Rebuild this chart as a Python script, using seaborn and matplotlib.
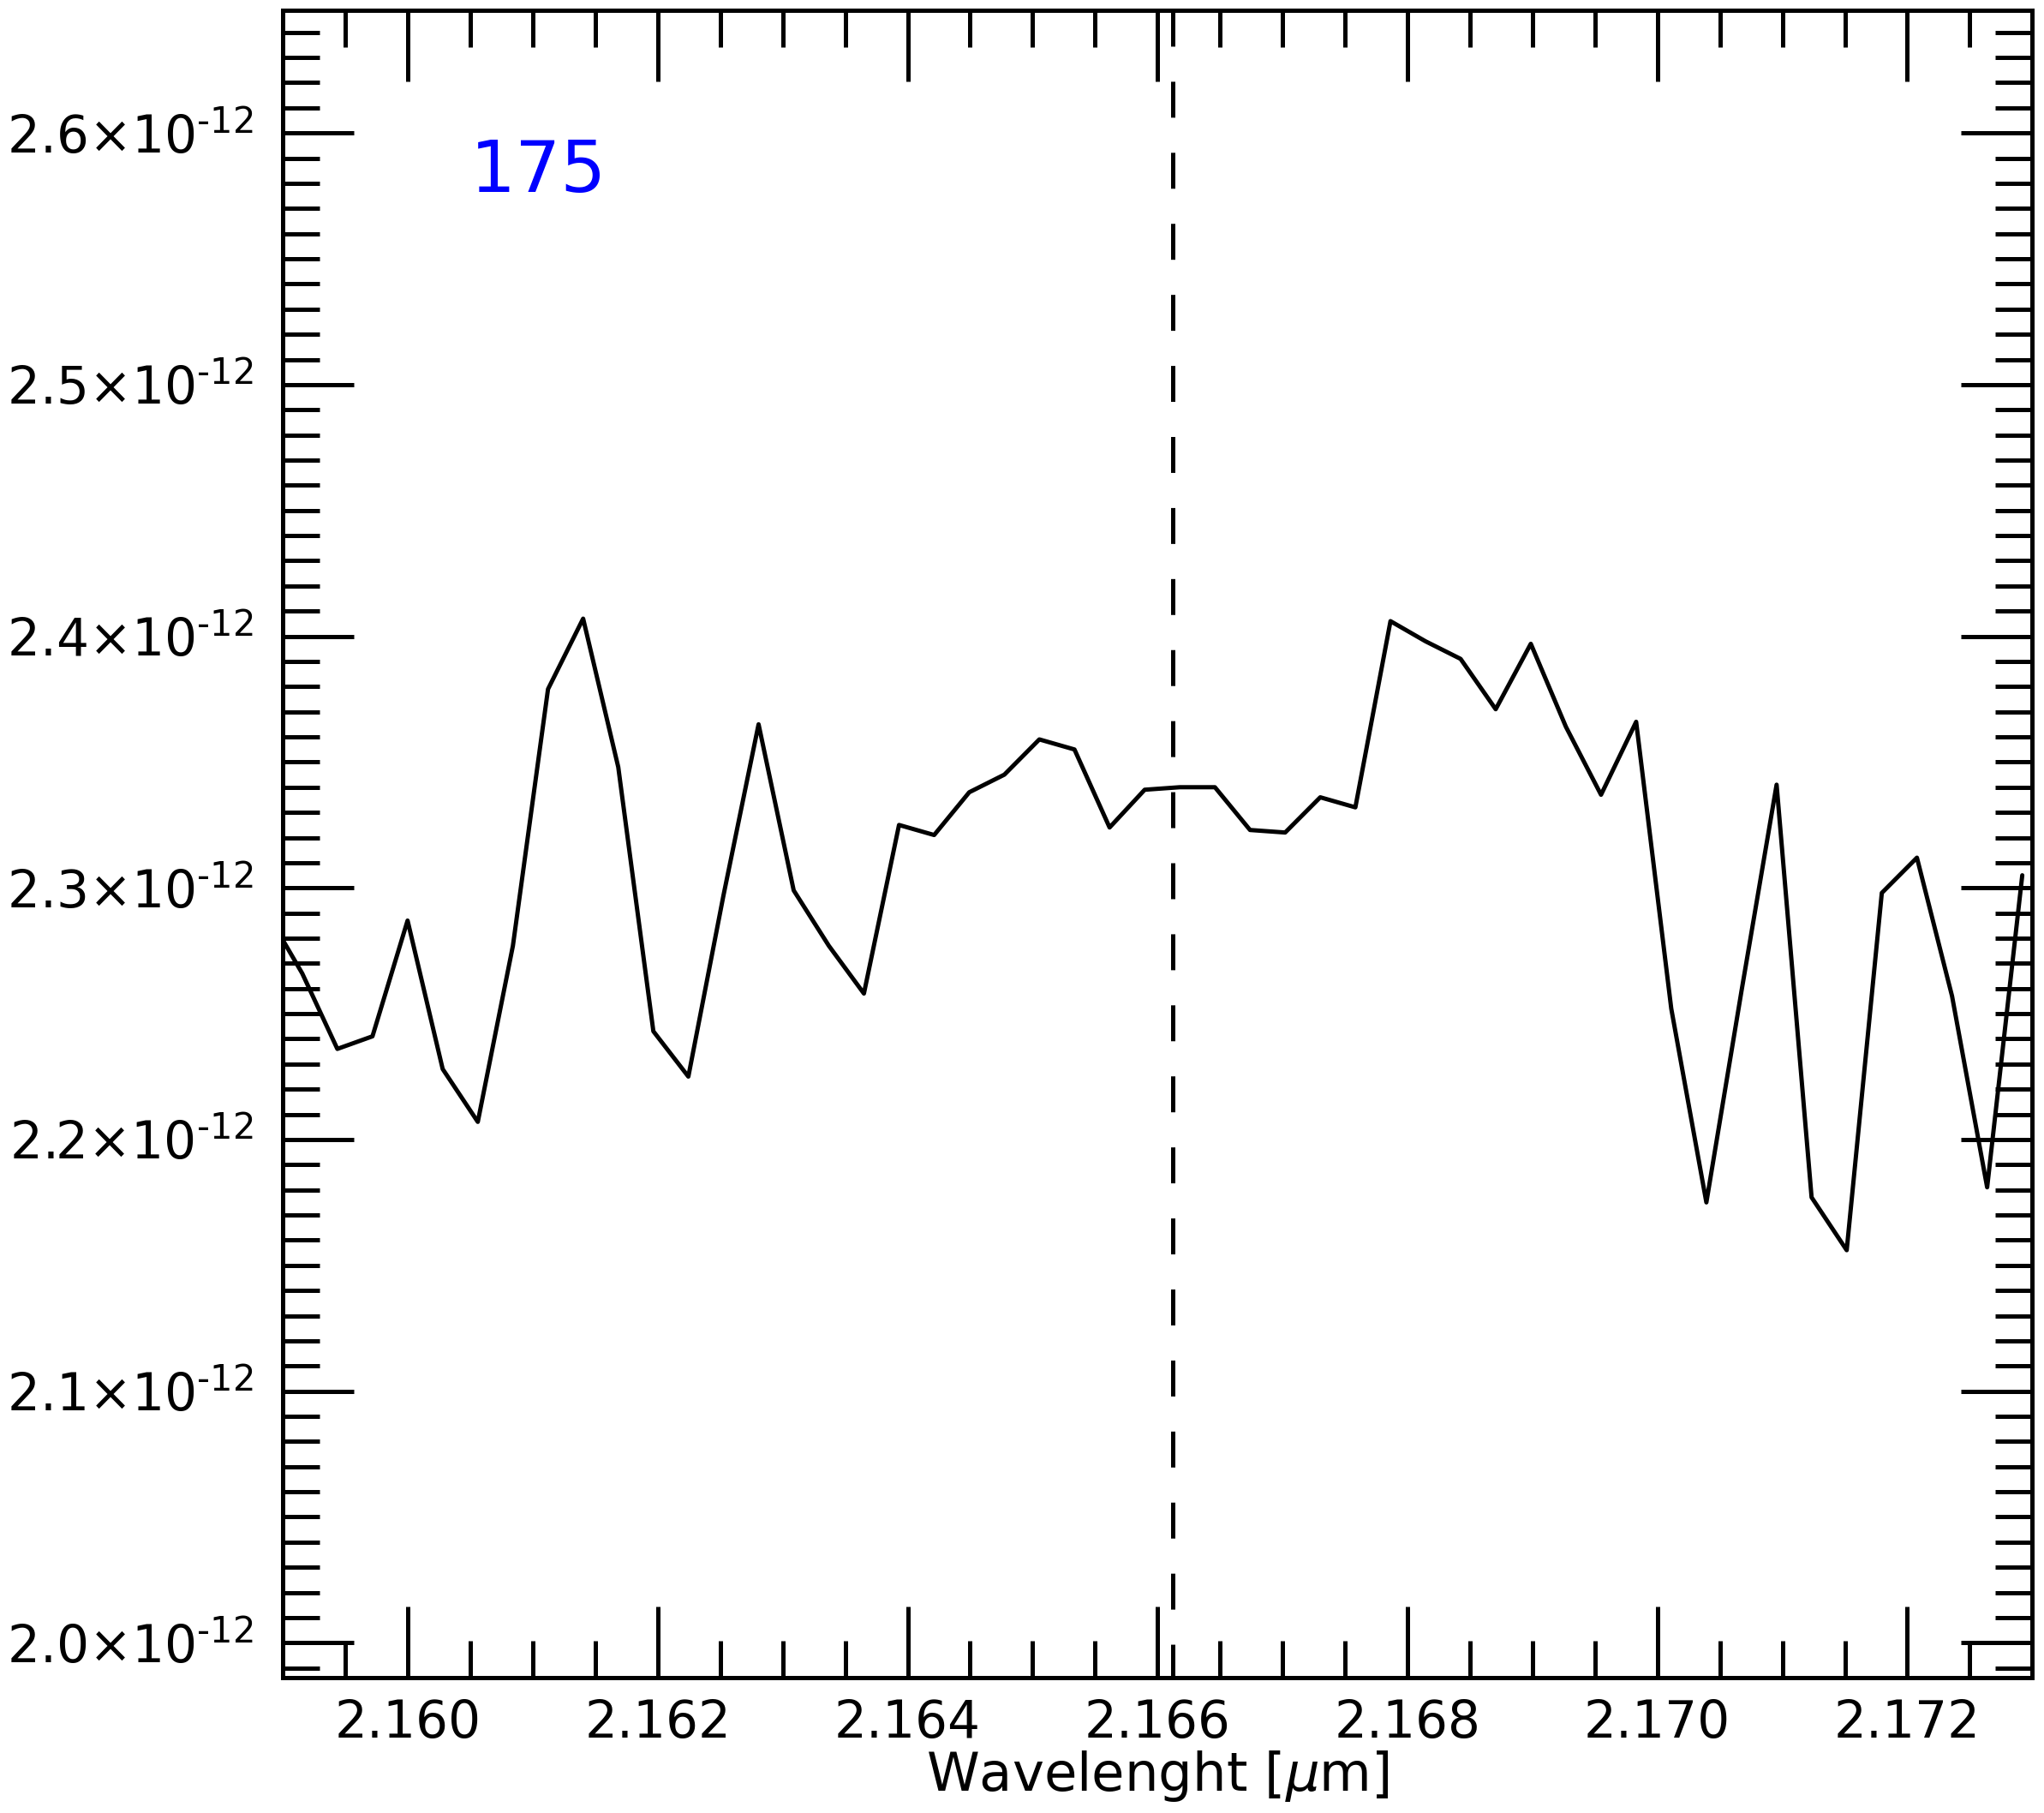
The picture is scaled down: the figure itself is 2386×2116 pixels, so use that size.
import numpy as np
import pandas as pd
import matplotlib
matplotlib.use("Agg")
import matplotlib.pyplot as plt
from matplotlib.ticker import MultipleLocator, FuncFormatter
import seaborn as sns

# ---- data -------------------------------------------------------------
wavelength = [
    2.158874, 2.159155, 2.159436, 2.159717, 2.159998, 2.160279, 2.160560,
    2.160841, 2.161122, 2.161403, 2.161684, 2.161965, 2.162245, 2.162526,
    2.162807, 2.163088, 2.163369, 2.163650, 2.163931, 2.164212, 2.164493,
    2.164774, 2.165054, 2.165335, 2.165616, 2.165897, 2.166178, 2.166459,
    2.166740, 2.167021, 2.167302, 2.167583, 2.167864, 2.168144, 2.168425,
    2.168706, 2.168987, 2.169268, 2.169549, 2.169830, 2.170111, 2.170392,
    2.170673, 2.170954, 2.171234, 2.171515, 2.171796, 2.172077, 2.172358,
    2.172639, 2.172920,
]
flux_e12 = [
    2.290, 2.266, 2.236, 2.241, 2.287, 2.228, 2.207,
    2.277, 2.379, 2.407, 2.348, 2.243, 2.225, 2.297,
    2.365, 2.299, 2.277, 2.258, 2.325, 2.321, 2.338,
    2.345, 2.359, 2.355, 2.324, 2.339, 2.340, 2.340,
    2.323, 2.322, 2.336, 2.332, 2.406, 2.398, 2.391,
    2.371, 2.397, 2.364, 2.337, 2.366, 2.252, 2.175,
    2.259, 2.341, 2.177, 2.156, 2.298, 2.312, 2.257,
    2.181, 2.305,
]
line_center = 2.16612
label_text = "175"
x_label = r"Wavelenght [$\mu$m]"
x_limits = (2.159, 2.173)
y_limits = (1.986, 2.6487)

df = pd.DataFrame({"wavelength": wavelength, "flux": flux_e12})

# ---- style ------------------------------------------------------------
sns.set_style("ticks")
plt.rcParams["font.family"] = ["DejaVu Sans"]
plt.rcParams["mathtext.fontset"] = "dejavusans"
plt.rcParams["lines.scale_dashes"] = False
for key in ["text.color", "axes.labelcolor", "xtick.color", "ytick.color",
            "xtick.labelcolor", "ytick.labelcolor"]:
    plt.rcParams[key] = "black"

LW = 3.6
fig = plt.figure(figsize=(23.86, 21.16), dpi=100)
ax = fig.add_axes([330.2 / 2386, 1 - 1958.4 / 2116,
                   (2372.3 - 330.2) / 2386, (1958.4 - 12.2) / 2116])

sns.lineplot(data=df, x="wavelength", y="flux", ax=ax, color="black",
             linewidth=LW, sort=False, estimator=None)

ax.plot([line_center, line_center], [y_limits[1], y_limits[0]],
        color="black", linewidth=LW, linestyle=(0, (30.2, 29.5)))

ax.text(2.16050, 2.5767, label_text, color="#0000ff", fontsize=60,
        ha="left", va="baseline")

ax.set_xlim(*x_limits)
ax.set_ylim(*y_limits)

ax.xaxis.set_major_locator(MultipleLocator(0.002))
ax.xaxis.set_minor_locator(MultipleLocator(0.0005))
ax.yaxis.set_major_locator(MultipleLocator(0.1))
ax.yaxis.set_minor_locator(MultipleLocator(0.01))
ax.xaxis.set_major_formatter(FuncFormatter(lambda v, p: f"{v:.3f}"))
ax.yaxis.set_major_formatter(
    FuncFormatter(lambda v, p: f"{v:.1f}×10$^{{\\text{{-12}}}}$"))

for side in ["left", "right", "top", "bottom"]:
    ax.spines[side].set_visible(True)
    ax.spines[side].set_linewidth(LW)
    ax.spines[side].set_color("black")

ax.tick_params(which="both", direction="in", top=True, right=True,
               width=LW, color="black")
ax.tick_params(which="major", length=60)
ax.tick_params(which="minor", length=31)
ax.tick_params(axis="x", which="major", labelsize=43, pad=17)
ax.tick_params(axis="y", which="major", labelsize=43, pad=25)

ax.set_xlabel(x_label, fontsize=45, labelpad=0)
ax.set_ylabel("")

fig.savefig("out.png", dpi=100, facecolor="white")
